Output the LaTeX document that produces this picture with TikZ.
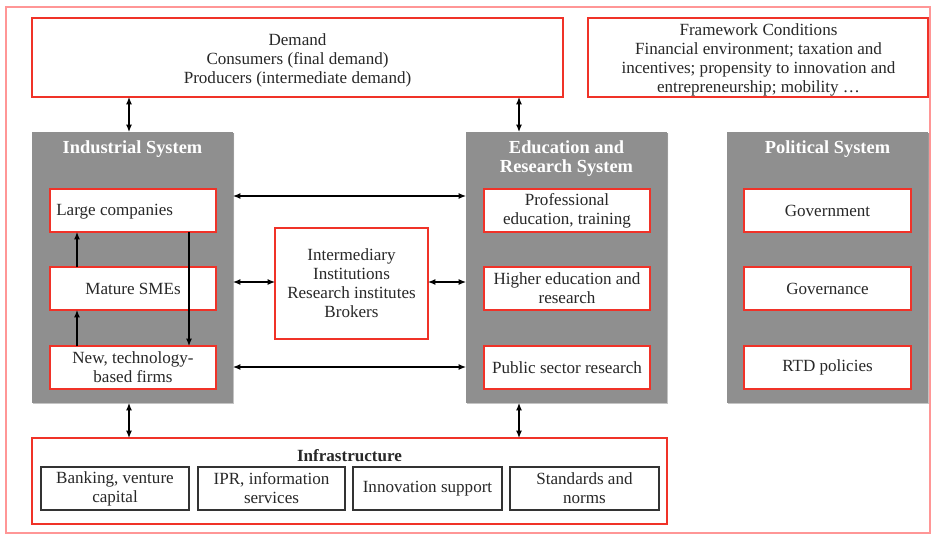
\documentclass[tikz,border=0pt]{standalone}
\usepackage{fontspec}
\setmainfont{Liberation Serif}
\usetikzlibrary{arrows.meta}
\definecolor{frame}{RGB}{255,150,150}
\definecolor{redline}{RGB}{240,50,40}
\definecolor{sysgray}{RGB}{143,143,143}
\definecolor{shade}{RGB}{120,120,120}
\definecolor{txt}{RGB}{40,40,40}
\newcommand{\txtfont}{\fontsize{12.8}{14.25}\selectfont}
\tikzset{
  redbox/.style={draw=redline, line width=1pt, fill=white, inner sep=0pt, outer sep=0pt, align=center, text=txt, font=\txtfont},
  innerbox/.style={draw=redline, line width=1.4pt, fill=white, inner sep=0pt, outer sep=0pt, align=center, text=txt, font=\txtfont,
     minimum height=43*0.75pt},
  sysbox/.style={fill=sysgray, inner sep=0pt, outer sep=0pt, minimum width=201*0.75pt, minimum height=271*0.75pt},
  systitle/.style={text=white, font=\bfseries\fontsize{13.8}{14.25}\selectfont, align=center, inner sep=0pt},
  infbox/.style={draw=black!80, line width=0.9pt, fill=white, inner sep=0pt, outer sep=0pt, align=center, text=txt,
     minimum height=43*0.75pt, font=\txtfont},
  plaintext/.style={text=txt, align=center, font=\txtfont, inner sep=0pt},
  link/.style={{Latex[length=5.5pt,width=4.5pt]}-{Latex[length=5.5pt,width=4.5pt]}, line width=0.9pt, black},
  onelink/.style={-{Latex[length=5.5pt,width=4.5pt]}, line width=0.9pt, black}
}
\begin{document}
\begin{tikzpicture}[x=0.75pt,y=-0.75pt]
\useasboundingbox (0,0) rectangle (932,535);
% outer frame
\draw[frame, line width=1.5pt] (6,7) rectangle (930,533);

% top boxes
\node[redbox, minimum width=531*0.75pt, minimum height=79*0.75pt] (demand) at (297.5,57.5) {};
\node[plaintext] (demandtxt) at (297.5,60) {Demand\\Consumers (final demand)\\Producers (intermediate demand)};
\node[redbox, minimum width=340*0.75pt, minimum height=79*0.75pt] (frame) at (758,57.5) {};
\node[plaintext] (frametxt) at (758.5,60) {Framework Conditions\\Financial environment; taxation and\\incentives; propensity to innovation and\\entrepreneurship; mobility \dots};

% system boxes (with faint shadow)
\foreach \cx in {132.5,566.5,827.5}
  \fill[shade, opacity=0.35] (\cx-100.5+1.2,132+1.2) rectangle (\cx+100.5+1.2,403+1.2);
\node[sysbox] (ind) at (132.5,267.5) {};
\node[sysbox] (edu) at (566.5,267.5) {};
\node[sysbox] (pol) at (827.5,267.5) {};
\node[systitle] (indt) at (132.5,149) {Industrial System};
\node[systitle] (edut) at (566.5,158.5) {Education and\\Research System};
\node[systitle] (polt) at (827.5,149) {Political System};

% industrial inner
\node[innerbox, minimum width=166*0.75pt] (large) at (133,210.5) {};
\node[anchor=west, plaintext] (largetxt) at (56,212) {Large companies};
\node[innerbox, minimum width=166*0.75pt] (sme) at (133,288.5) {Mature SMEs};
\node[innerbox, minimum width=166*0.75pt] (new) at (133,367.5) {New, technology-\\based firms};

% education inner
\node[innerbox, minimum width=166*0.75pt] (prof) at (567,210.5) {Professional\\education, training};
\node[innerbox, minimum width=166*0.75pt] (higher) at (567,288.5) {Higher education and\\research};
\node[innerbox, minimum width=166*0.75pt] (pub) at (567,367.5) {Public sector research};

% political inner
\node[innerbox, minimum width=167*0.75pt] (gov) at (827.5,210.5) {Government};
\node[innerbox, minimum width=167*0.75pt] (govn) at (827.5,288.5) {Governance};
\node[innerbox, minimum width=167*0.75pt] (rtd) at (827.5,367.5) {RTD policies};

% intermediary
\node[redbox, line width=1.2pt, minimum width=153*0.75pt, minimum height=111*0.75pt] (inter) at (351.5,283.5) {Intermediary\\Institutions\\Research institutes\\Brokers};

% infrastructure
\node[redbox, line width=1.2pt, minimum width=635*0.75pt, minimum height=86*0.75pt] (infra) at (349.5,481) {};
\node[plaintext, font=\bfseries\txtfont] (infrat) at (349.5,456) {Infrastructure};
\node[infbox, minimum width=148*0.75pt] (bank) at (115,488.5) {Banking, venture\\capital};
\node[infbox, minimum width=147*0.75pt] (ipr) at (271.5,488.5) {IPR, information\\services};
\node[infbox, minimum width=149*0.75pt] (innov) at (427.5,488.5) {Innovation support};
\node[infbox, minimum width=149*0.75pt] (stand) at (584.5,488.5) {Standards and\\norms};

% connectors
\draw[link] (demand.south -| 129,0) -- (ind.north -| 129,0);
\draw[link] (demand.south -| 519,0) -- (edu.north -| 519,0);
\draw[link] (ind.south -| 129,0) -- (infra.north -| 129,0);
\draw[link] (edu.south -| 519,0) -- (infra.north -| 519,0);

\draw[link] (ind.east |- 0,196) -- (edu.west |- 0,196);
\draw[link] (ind.east |- 0,282) -- (inter.west |- 0,282);
\draw[link] (inter.east |- 0,282) -- (edu.west |- 0,282);
\draw[link] (ind.east |- 0,367) -- (edu.west |- 0,367);

\draw[onelink] (sme.north -| 77,0) -- (large.south -| 77,0);
\draw[onelink] (new.north -| 77,0) -- (sme.south -| 77,0);
\draw[onelink] (large.south -| 189,0) -- (new.north -| 189,0);
\end{tikzpicture}
\end{document}
